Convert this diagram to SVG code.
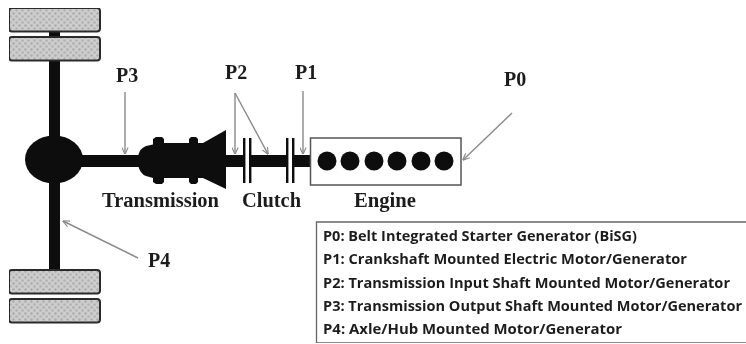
<svg xmlns="http://www.w3.org/2000/svg" width="746" height="344" viewBox="0 0 746 344">
<style>
.tire{fill:url(#tread);stroke:#2b2b2b;stroke-width:2}
.dark{fill:#111}
.plate{fill:#111}
.lead{fill:none;stroke:#8a8a8a;stroke-width:1.4}
.lbl{font-family:"Liberation Serif",serif;font-weight:700;fill:#1f1f1f;font-size:20px}
.leg{font-family:"Open Sans","Liberation Sans",sans-serif;font-weight:700;font-size:14.500px;fill:#1f1f1f}
</style>
<defs>
<pattern id="tread" width="6" height="6" patternUnits="userSpaceOnUse">
<rect width="6" height="6" fill="#cdcdcd"/>
<circle cx="1.500" cy="1.500" r="1.200" fill="#aaa"/>
<circle cx="4.500" cy="4.500" r="1.200" fill="#b0b0b0"/>
</pattern>
<marker id="ah" viewBox="0 0 8 8" refX="7.500" refY="4" markerWidth="7" markerHeight="7" markerUnits="userSpaceOnUse" orient="auto">
<path d="M0 0.500L8 4L0 7.500" fill="none" stroke="#8a8a8a" stroke-width="1.300"/>
</marker>
<filter id="soft" x="0" y="0" width="100%" height="100%"><feGaussianBlur stdDeviation="0.450"/></filter>
</defs>
<rect width="746" height="344" fill="#fff"/>
<g filter="url(#soft)">
<g id="axle"><rect class="dark" x="49" y="30" width="11" height="241"/></g>
<g id="wheel-top-outer"><rect class="tire" x="9" y="8" width="91" height="23.500" rx="3"/></g>
<g id="wheel-top-inner"><rect class="tire" x="9" y="37" width="91" height="23.500" rx="3"/></g>
<g id="wheel-bottom-inner"><rect class="tire" x="9" y="270" width="91" height="23.500" rx="3"/></g>
<g id="wheel-bottom-outer"><rect class="tire" x="9" y="299" width="91" height="23.500" rx="3"/></g>
<g id="shafts">
<rect class="dark" x="80" y="155" width="62" height="12"/>
<rect class="dark" x="224" y="155" width="19" height="12"/>
<rect class="dark" x="250" y="155" width="36" height="12"/>
<rect class="dark" x="293" y="155" width="18" height="12"/>
</g>
<g id="differential"><ellipse class="dark" cx="54" cy="159.500" rx="29" ry="24"/></g>
<g id="transmission">
<path class="dark" d="M138 156Q140 148 146 146L153 144.500V139L156 137H162L164 139V143H189V139L191 137H196L198 139V143H203L226 130V189L203 178H198V182L196 184H191L189 182V178H164V182L162 184H156L153 182V178L146 176Q140 174 138 165Z"/>
<text class="lbl" x="102" y="207" textLength="117" lengthAdjust="spacingAndGlyphs">Transmission</text>
</g>
<g id="clutch">
<rect class="plate" x="243" y="138" width="2.400" height="45"/>
<rect class="plate" x="249" y="138" width="2.400" height="45"/>
<rect class="plate" x="286" y="138" width="2.400" height="45"/>
<rect class="plate" x="292" y="138" width="2.400" height="45"/>
<text class="lbl" x="242" y="207" textLength="59" lengthAdjust="spacingAndGlyphs">Clutch</text>
</g>
<g id="engine">
<rect x="310.500" y="138" width="150.500" height="47" fill="#fff" stroke="#555" stroke-width="1.500"/>
<circle class="dark" cx="327" cy="161" r="9.500"/>
<circle class="dark" cx="350" cy="161" r="9.500"/>
<circle class="dark" cx="374" cy="161" r="9.500"/>
<circle class="dark" cx="397" cy="161" r="9.500"/>
<circle class="dark" cx="421" cy="161" r="9.500"/>
<circle class="dark" cx="444" cy="161" r="9.500"/>
<text class="lbl" x="354" y="207" textLength="62" lengthAdjust="spacingAndGlyphs">Engine</text>
</g>
<g id="connectors">
<path class="lead" marker-end="url(#ah)" d="M125 92V154"/>
<path class="lead" marker-end="url(#ah)" d="M235 93V154"/>
<path class="lead" marker-end="url(#ah)" d="M235 93L268 154"/>
<path class="lead" marker-end="url(#ah)" d="M303 91V154"/>
<path class="lead" marker-end="url(#ah)" d="M512 113L463 160"/>
<path class="lead" marker-end="url(#ah)" d="M138 258L63 221"/>
</g>
<g id="labels">
<text class="lbl" x="116" y="82">P3</text>
<text class="lbl" x="225" y="79">P2</text>
<text class="lbl" x="295" y="79">P1</text>
<text class="lbl" x="504" y="86">P0</text>
<text class="lbl" x="148" y="267">P4</text>
</g>
<g id="legend">
<path d="M746 222H316.500V343H746" fill="#fff" stroke="#666" stroke-width="1.300"/>
<text class="leg" x="323" y="241" textLength="314" lengthAdjust="spacingAndGlyphs">P0: Belt Integrated Starter Generator (BiSG)</text>
<text class="leg" x="323" y="264" textLength="364" lengthAdjust="spacingAndGlyphs">P1: Crankshaft Mounted Electric Motor/Generator</text>
<text class="leg" x="323" y="288" textLength="407" lengthAdjust="spacingAndGlyphs">P2: Transmission Input Shaft Mounted Motor/Generator</text>
<text class="leg" x="323" y="311" textLength="419" lengthAdjust="spacingAndGlyphs">P3: Transmission Output Shaft Mounted Motor/Generator</text>
<text class="leg" x="323" y="334" textLength="299" lengthAdjust="spacingAndGlyphs">P4: Axle/Hub Mounted Motor/Generator</text>
</g>
</g>
</svg>
